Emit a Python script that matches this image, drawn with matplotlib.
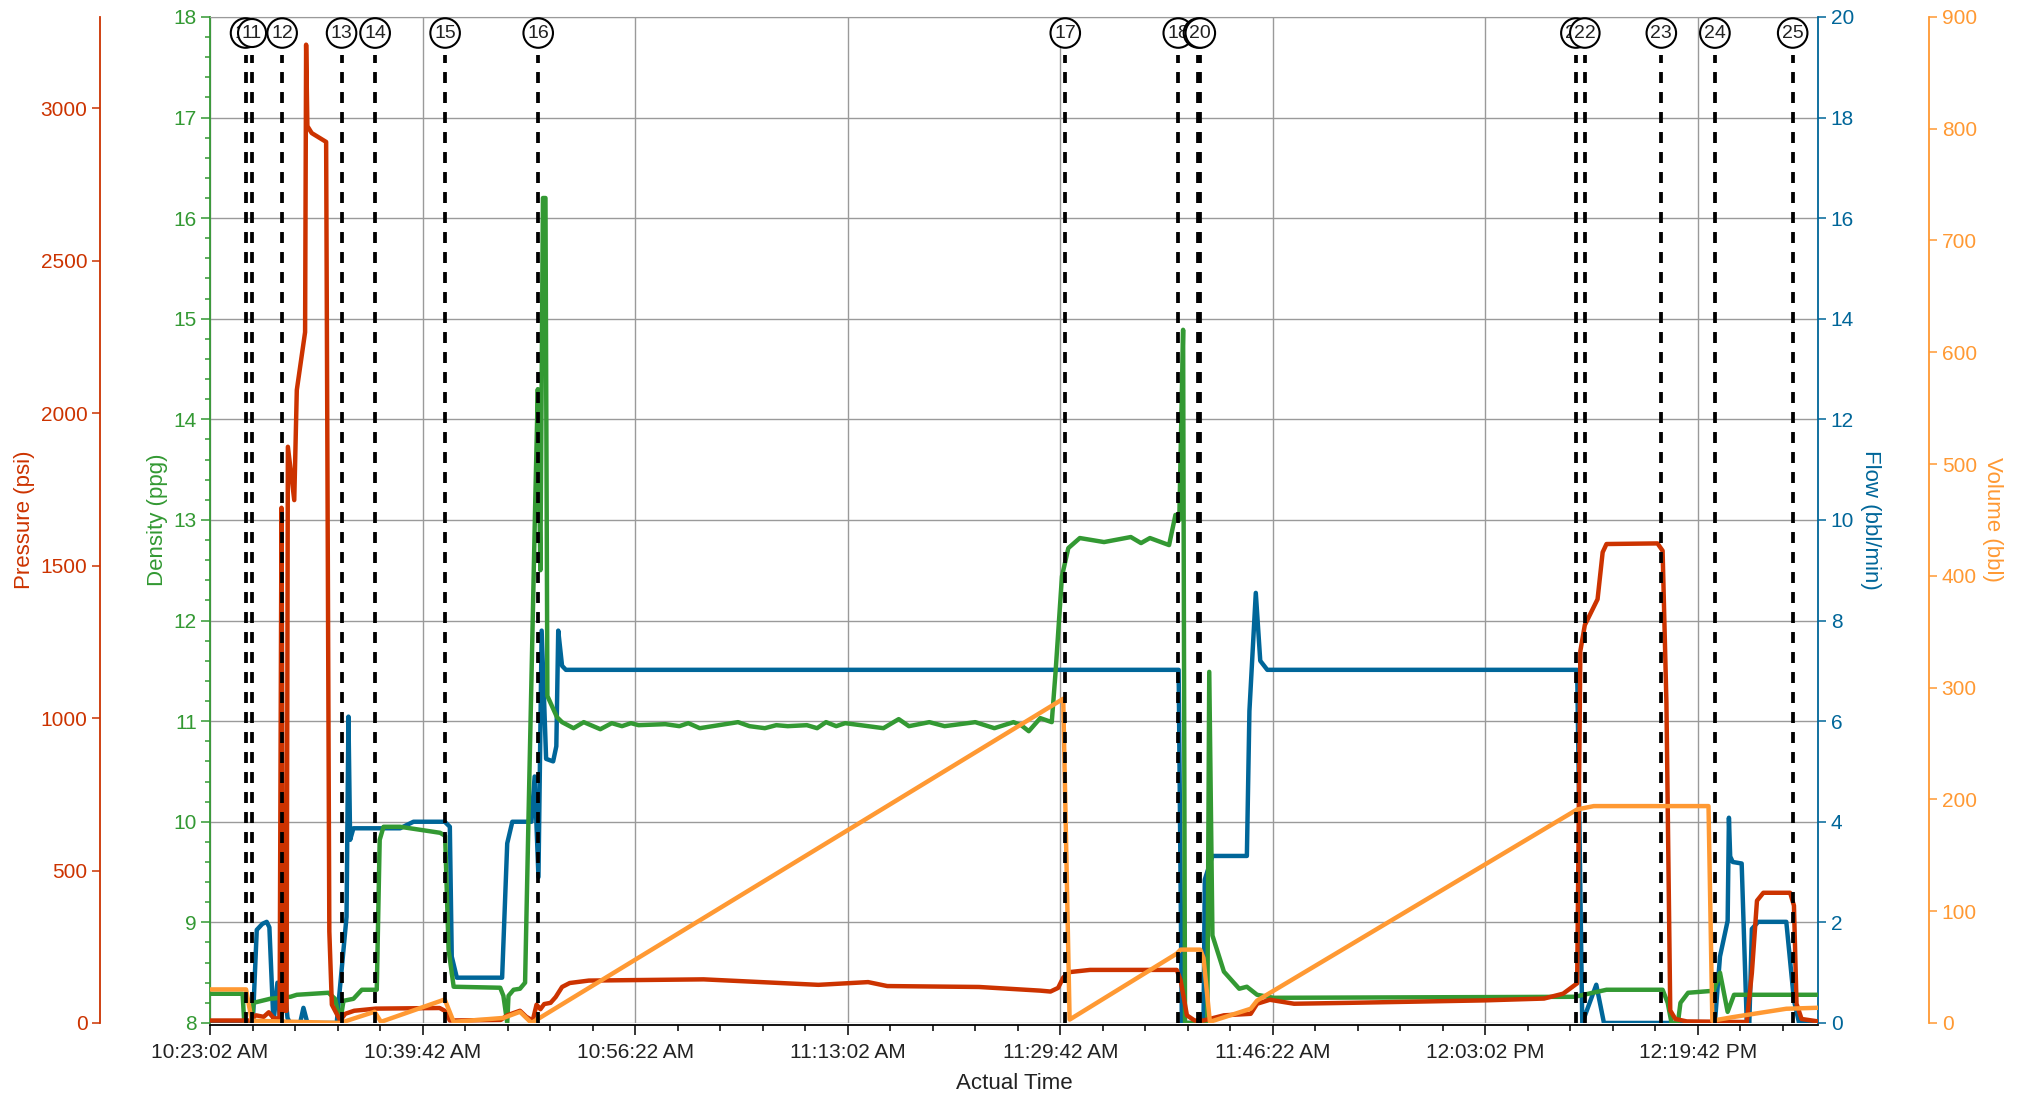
import matplotlib
matplotlib.use('Agg')
import matplotlib.pyplot as plt
from matplotlib.ticker import MultipleLocator, FuncFormatter

plt.rcParams['font.family'] = ['Liberation Sans', 'DejaVu Sans']
plt.rcParams['lines.scale_dashes'] = False

START = 10 * 3600 + 23 * 60 + 2  # 10:23:02 AM, x values are minutes after this

# pressure (psi)
pres_t = [0, 3.1, 3.6, 4.2, 4.6, 5.0, 5.45, 5.6, 5.75, 6.0, 6.1, 6.6, 6.8, 7.45, 7.53, 7.63, 7.97, 9.1, 9.35, 9.55,
          10.2, 10.6, 11.3, 13.0, 18.0, 18.4, 18.8, 22.8, 23.3, 24.3, 24.8, 25.3, 25.6, 25.9, 26.2, 26.7, 27.1, 27.6,
          28.2, 29.7, 38.7, 47.7, 51.6, 53.1, 60.3, 65.1, 65.9, 66.5, 66.9, 67.45, 69.0, 75.8, 76.1, 76.6, 77.2,
          77.9, 79.5, 81.6, 82.1, 83.1, 85.0, 89.4, 99.9, 104.6, 106.1, 107.2, 107.45, 107.8, 108.8, 109.2, 109.5,
          113.5, 113.9, 114.2, 114.5, 114.9, 115.8, 120.5, 120.9, 121.3, 121.8, 123.9, 124.2, 124.4, 124.8, 126.1]
pres_v = [8, 8, 25, 20, 35, 15, 15, 1690, 40, 40, 1890, 1715, 2076, 2266, 3209, 2942, 2919, 2890, 300, 60,
          8, 30, 40, 47, 49, 40, 8, 10, 25, 40, 20, 8, 60, 45, 62, 66, 85, 118,
          131, 139, 143, 125, 134, 121, 118, 106, 103, 115, 149, 167, 174, 174, 141, 25, 8,
          8, 25, 30, 63, 76, 63, 66, 74, 80, 96, 130, 1220, 1305, 1390, 1544, 1571,
          1573, 1549, 1050, 41, 13, 5, 3, 164, 401, 427, 427, 385, 63, 13, 5]

# density (ppg)
dens_t = [0, 2.55, 2.68, 3.27, 3.4, 4.7, 6.3, 6.8, 9.28, 9.8, 10.2, 10.46, 11.24, 11.9, 13.07, 13.3, 13.6, 14.9,
          18.04, 18.43, 18.7, 19.1, 22.75, 23.0, 23.3, 23.4, 23.8, 24.3, 24.7, 24.97, 25.5, 25.7, 25.9, 26.1, 26.3,
          26.45, 27.2, 27.6, 28.5, 29.3, 30.6, 31.5, 32.3, 33.0, 33.6, 35.7, 36.8, 37.5, 38.4, 41.4, 42.3, 43.5,
          44.4, 45.3, 46.8, 47.6, 48.3, 49.1, 49.8, 52.8, 54.0, 54.8, 56.4, 57.6, 60.0, 61.5, 63.0, 63.6, 64.2,
          65.1, 66.0, 66.3, 66.8, 67.3, 68.2, 70.1, 72.2, 73.0, 73.7, 75.2, 75.7, 76.0, 76.3, 76.45, 78.2, 78.35,
          78.6, 79.5, 80.7, 81.3, 82.1, 83.4, 107.0, 109.5, 113.9, 114.3, 114.6, 115.1, 115.3, 115.9, 117.9,
          118.4, 119.0, 119.5, 126.1]
dens_v = [8.29, 8.29, 8.0, 8.0, 8.2, 8.24, 8.26, 8.28, 8.30, 8.24, 8.01, 8.22, 8.24, 8.33, 8.33, 9.82, 9.95, 9.95,
          9.89, 9.86, 8.73, 8.36, 8.35, 8.27, 8.0, 8.27, 8.33, 8.34, 8.4, 10.05, 13.2, 14.3, 12.5, 16.2, 16.2,
          11.25, 11.04, 10.99, 10.93, 10.99, 10.92, 10.98, 10.95, 10.98, 10.96, 10.97, 10.95, 10.98, 10.93, 10.99,
          10.95, 10.93, 10.96, 10.95, 10.96, 10.93, 10.99, 10.95, 10.98, 10.93, 11.02, 10.95, 10.99, 10.95, 10.99,
          10.93, 10.99, 10.96, 10.9, 11.03, 10.99, 11.49, 12.44, 12.72, 12.82, 12.78, 12.83, 12.77, 12.82, 12.75,
          13.05, 13.0, 14.89, 8.0, 8.0, 11.49, 8.87, 8.51, 8.34, 8.36, 8.28, 8.25, 8.26, 8.33, 8.33, 8.2, 8.0,
          8.0, 8.2, 8.3, 8.32, 8.5, 8.11, 8.28, 8.28]

# flow (bbl/min)
flow_t = [0, 3.35, 3.66, 4.1, 4.44, 4.65, 4.97, 5.28, 5.49, 5.88, 6.07, 6.27, 7.06, 7.32, 7.63, 9.93, 10.7, 10.85,
          10.98, 11.24, 14.9, 15.95, 18.4, 18.8, 18.95, 19.35, 22.9, 23.3, 23.7, 25.2, 25.45, 25.75, 26.0, 26.35,
          26.9, 27.15, 27.3, 27.6, 27.9, 75.95, 76.2, 77.9, 78.0, 78.6, 81.3, 81.5, 82.0, 82.35, 82.9, 107.2,
          107.6, 108.7, 109.3, 118.0, 118.4, 119.0, 119.1, 119.2, 119.4, 120.1, 120.5, 120.7, 120.9, 121.4, 123.6,
          124.2, 124.6, 126.1]
flow_v = [0, 0, 1.85, 1.97, 2.01, 1.9, 0, 0.8, 0, 0.6, 0.1, 0, 0, 0.3, 0, 0, 2.11, 6.09,
          3.64, 3.87, 3.87, 4.0, 4.0, 3.9, 1.32, 0.9, 0.9, 3.57, 4.0, 4.0, 4.9, 2.9, 7.8, 5.25,
          5.2, 5.5, 7.8, 7.1, 7.02, 7.02, 0, 0, 2.85, 3.32, 3.32, 6.2, 8.55, 7.2, 7.02, 7.02,
          0, 0.76, 0, 0, 1.32, 2.03, 4.08, 3.31, 3.2, 3.17, 0, 0, 1.87, 2.01, 2.01,
          0.45, 0, 0]

# volume (bbl)
vol_t = [0, 2.82, 3.27, 10.2, 12.9, 13.4, 18.4, 19.1, 23.0, 24.3, 25.2, 66.9, 67.4, 75.8, 76.1, 77.65, 77.9,
         78.4, 81.6, 82.1, 107.2, 108.5, 117.5, 117.8, 119.4, 123.6, 126.1]
vol_v = [30, 30, 2, 0, 10, 1, 21, 1, 4.5, 10, 0, 290, 3, 62, 65.6, 65.6, 58,
         1, 12.7, 20, 191, 194, 194, 2, 5.2, 12.7, 13.6]

# event markers
event_t = [2.78, 3.29, 5.65, 10.31, 12.94, 18.43, 25.73, 67.06, 75.92, 77.5, 77.65, 107.1, 107.8, 113.8, 118.0, 124.1]
event_n = list(range(10, 26))

RED = '#CC3300'
GREEN = '#339933'
BLUE = '#006699'
ORANGE = '#FF9933'
LW = 3.2


def fmt_time(m, pos):
    s = int(round(START + m * 60))
    h, r = divmod(s, 3600)
    mi, se = divmod(r, 60)
    ap = 'AM' if h < 12 else 'PM'
    h12 = h % 12 or 12
    return f'{h12}:{mi:02d}:{se:02d} {ap}'


def hide_spines(a, keep=()):
    for k, sp in a.spines.items():
        sp.set_visible(k in keep)


fig = plt.figure(figsize=(20.22, 10.99), dpi=100)
ax = fig.add_axes([0.1039, 0.0692, 0.7953, 0.9154])
ax.set_xlim(0, 126.1)
ax.set_ylim(8, 18)
ax.xaxis.set_major_locator(MultipleLocator(1000 / 60))
ax.xaxis.set_minor_locator(MultipleLocator(200 / 60))
ax.xaxis.set_major_formatter(FuncFormatter(fmt_time))
ax.yaxis.set_major_locator(MultipleLocator(1))
ax.yaxis.set_minor_locator(MultipleLocator(0.2))
ax.grid(True, which='major', color='#9a9a9a', lw=1.0)
ax.set_axisbelow(True)
ax.spines['right'].set_visible(False)
ax.spines['top'].set_color('#9a9a9a')
ax.spines['left'].set_color(GREEN)
ax.spines['left'].set_linewidth(1.3)
ax.spines['bottom'].set_color('black')
ax.spines['bottom'].set_linewidth(1.3)
ax.spines['bottom'].set_position(('outward', 1.5))
ax.tick_params(axis='x', which='major', length=7, width=1.1, color='black', labelsize=15, labelcolor='#222222', pad=6)
ax.tick_params(axis='x', which='minor', length=4, width=1.1, color='black')
ax.tick_params(axis='y', which='major', length=6.5, width=1.1, color=GREEN, labelsize=15, labelcolor=GREEN, pad=3)
ax.tick_params(axis='y', which='minor', length=3.6, width=1.1, color=GREEN)
ax.set_xlabel('Actual Time', fontsize=16, color='#222222', labelpad=8)
ax.set_ylabel('Density (ppg)', fontsize=16, color=GREEN, labelpad=4)

# flow (right spine)
ax_flow = ax.twinx()
hide_spines(ax_flow, keep=('right',))
ax_flow.spines['right'].set_color(BLUE)
ax_flow.spines['right'].set_linewidth(1.3)
ax_flow.set_ylim(0, 20)
ax_flow.yaxis.set_major_locator(MultipleLocator(2))
ax_flow.tick_params(axis='y', length=6, width=1.1, color=BLUE, labelsize=15, labelcolor=BLUE, pad=3)
ax_flow.set_ylabel('Flow (bbl/min)', fontsize=16, color=BLUE, rotation=270, va='bottom', labelpad=4)
ax_flow.plot(flow_t, flow_v, color=BLUE, lw=LW)

# density line
ax_dens = ax.twinx()
hide_spines(ax_dens)
ax_dens.set_ylim(8, 18)
ax_dens.yaxis.set_visible(False)
ax_dens.plot(dens_t, dens_v, color=GREEN, lw=LW)

# pressure (offset left spine)
ax_pres = ax.twinx()
hide_spines(ax_pres, keep=('left',))
ax_pres.spines['left'].set_position(('axes', -110 / 1608))
ax_pres.spines['left'].set_color(RED)
ax_pres.spines['left'].set_linewidth(1.3)
ax_pres.yaxis.tick_left()
ax_pres.yaxis.set_label_position('left')
ax_pres.set_ylim(0, 3300)
ax_pres.yaxis.set_major_locator(MultipleLocator(500))
ax_pres.tick_params(axis='y', length=6, width=1.1, color=RED, labelsize=15, labelcolor=RED, pad=3)
ax_pres.set_ylabel('Pressure (psi)', fontsize=16, color=RED, labelpad=4)
ax_pres.plot(pres_t, pres_v, color=RED, lw=LW)

# volume (offset right spine)
ax_vol = ax.twinx()
hide_spines(ax_vol, keep=('right',))
ax_vol.spines['right'].set_position(('axes', 1 + 111 / 1608))
ax_vol.spines['right'].set_color(ORANGE)
ax_vol.spines['right'].set_linewidth(1.3)
ax_vol.set_ylim(0, 900)
ax_vol.yaxis.set_major_locator(MultipleLocator(100))
ax_vol.tick_params(axis='y', length=6, width=1.1, color=ORANGE, labelsize=15, labelcolor=ORANGE, pad=3)
ax_vol.set_ylabel('Volume (bbl)', fontsize=16, color=ORANGE, rotation=270, va='bottom', labelpad=4)
ax_vol.plot(vol_t, vol_v, color=ORANGE, lw=LW)

# event markers
trans = ax_vol.get_xaxis_transform()
for t, n in zip(event_t, event_n):
    ax_vol.plot([t, t], [0, 0.962], transform=trans, color='black', lw=2.7,
                ls=(0, (7.9, 6.5)), zorder=5)
    ax_vol.text(t, 0.984, str(n), transform=trans, ha='center', va='center', fontsize=14,
                color='#222222', zorder=6,
                bbox=dict(boxstyle='circle,pad=0.2', fc='white', ec='black', lw=1.5))

fig.savefig('out.png', dpi=100)
